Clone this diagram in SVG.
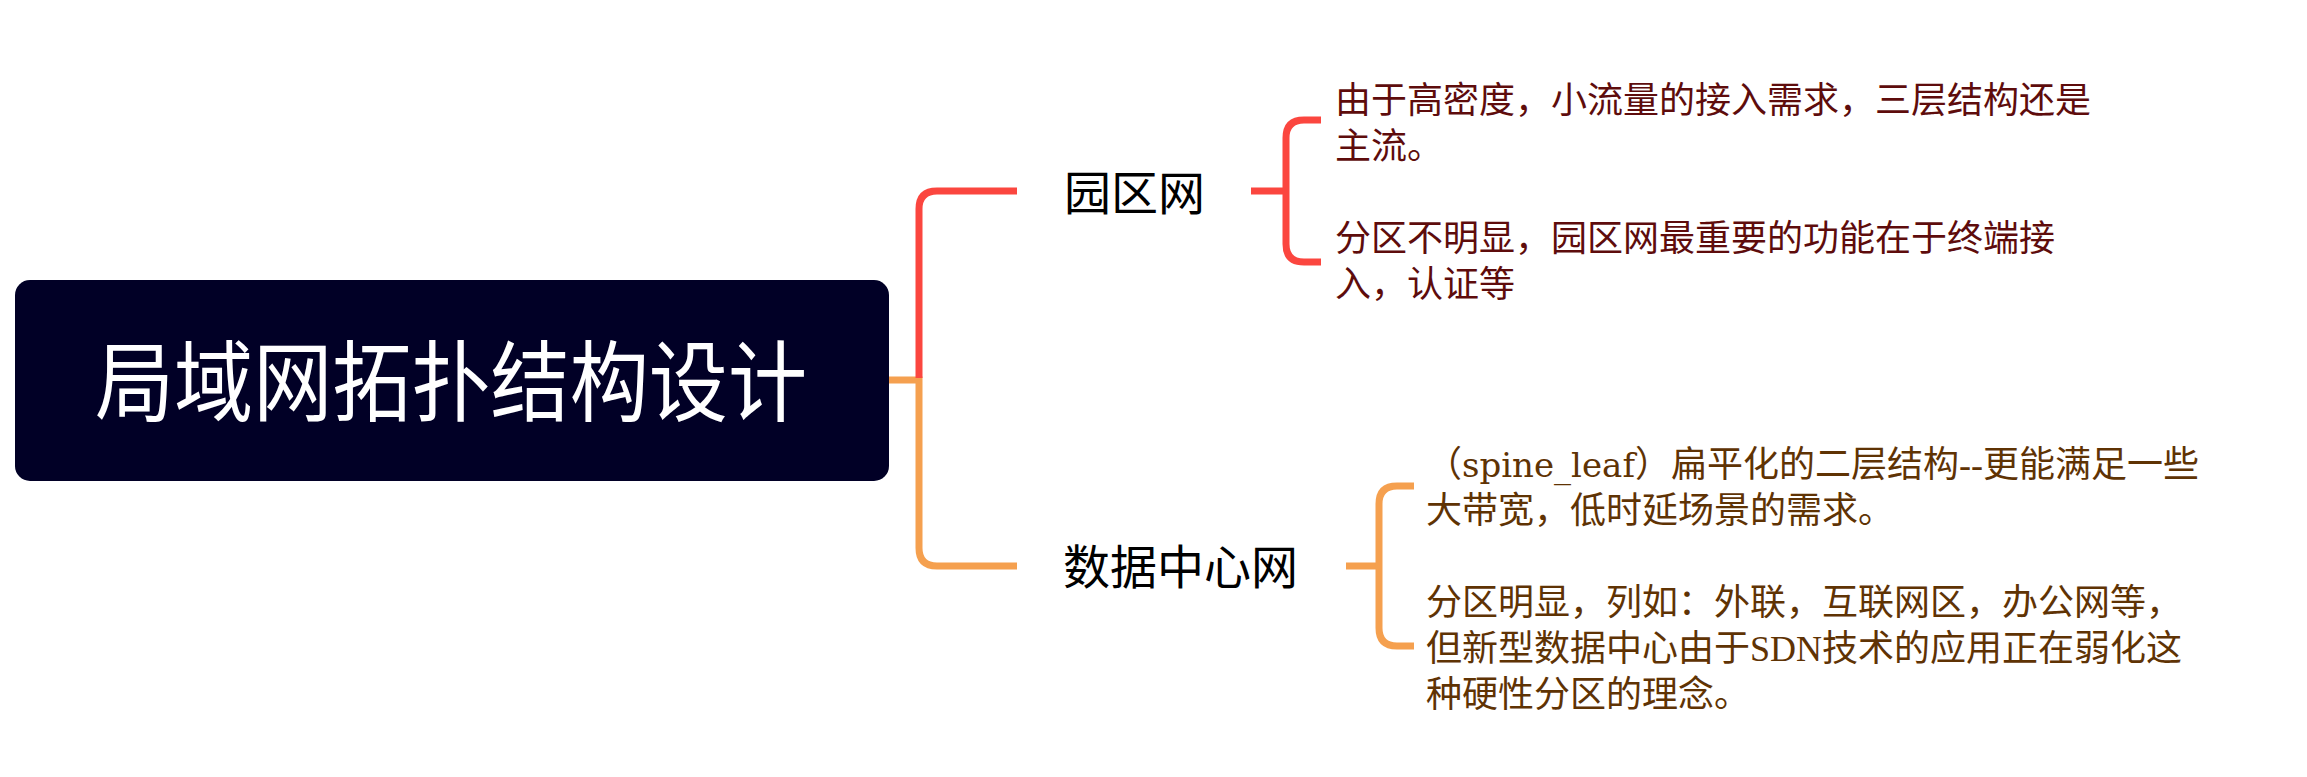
<svg xmlns="http://www.w3.org/2000/svg" width="2307" height="777" viewBox="0 0 2307 777">
  <style>
    .root-box { fill: #010026; }
    .root-text { font-family: "Noto Sans CJK SC", sans-serif; font-size: 88px; fill: #ffffff; }
    .node-text { font-family: "Noto Sans CJK SC", sans-serif; font-size: 47px; fill: #000000; }
    .note1 { font-family: "Noto Sans CJK SC", sans-serif; font-size: 36px; fill: #5e0c0c; }
    .note2 { font-family: "Liberation Serif", "Noto Sans CJK SC", serif; font-size: 36px; fill: #5f3304; }
    .latin { font-family: "DejaVu Serif", "Noto Sans CJK SC", serif; font-size: 34px; }
    .red { fill: none; stroke: #fb463f; stroke-width: 7; }
    .orange { fill: none; stroke: #f5a04f; stroke-width: 7; }
  </style>
  <rect width="2307" height="777" fill="#ffffff"/>
  <g id="connectors">
    <path class="orange" d="M889 380 H919 V548 Q919 566 937 566 H1017"/>
    <path class="red" d="M919 378 V209 Q919 191 937 191 H1017"/>
    <path class="red" d="M1251 191 H1286"/>
    <path class="red" d="M1321 120 H1304 Q1286 120 1286 138 V244 Q1286 262 1304 262 H1321"/>
    <path class="orange" d="M1346 566 H1379"/>
    <path class="orange" d="M1414 486 H1397 Q1379 486 1379 504 V628 Q1379 646 1397 646 H1414"/>
  </g>
  <g id="root">
    <rect class="root-box" x="15" y="280" width="874" height="201" rx="15" ry="15"/>
    <text class="root-text" x="95" y="414" textLength="712" lengthAdjust="spacingAndGlyphs">局域网拓扑结构设计</text>
  </g>
  <g id="node-campus">
    <text class="node-text" x="1064" y="210">园区网</text>
  </g>
  <g id="node-datacenter">
    <text class="node-text" x="1063" y="584">数据中心网</text>
  </g>
  <g id="note-campus">
    <text class="note1" x="1335" y="113">由于高密度，小流量的接入需求，三层结构还是</text>
    <text class="note1" x="1335" y="159">主流。</text>
    <text class="note1" x="1335" y="251">分区不明显，园区网最重要的功能在于终端接</text>
    <text class="note1" x="1335" y="297">入，认证等</text>
  </g>
  <g id="note-datacenter">
    <text class="note2" x="1426" y="477">（<tspan class="latin">spine_leaf</tspan>）扁平化的二层结构--更能满足一些</text>
    <text class="note2" x="1426" y="523">大带宽，低时延场景的需求。</text>
    <text class="note2" x="1426" y="615">分区明显，列如：外联，互联网区，办公网等，</text>
    <text class="note2" x="1426" y="661">但新型数据中心由于SDN技术的应用正在弱化这</text>
    <text class="note2" x="1426" y="707">种硬性分区的理念。</text>
  </g>
</svg>
